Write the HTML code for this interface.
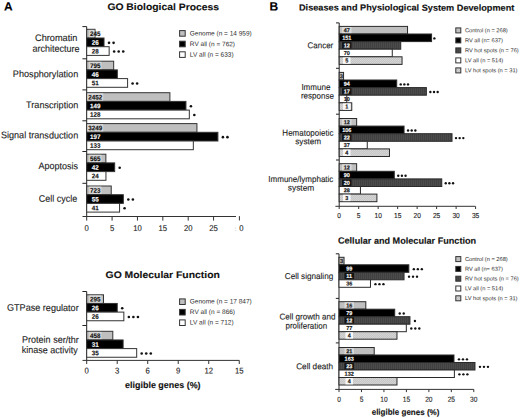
<!DOCTYPE html>
<html><head><meta charset="utf-8"><style>
html,body{margin:0;padding:0;background:#fff;}
body{width:520px;height:418px;overflow:hidden;}
svg{display:block;font-family:"Liberation Sans", sans-serif;text-rendering:geometricPrecision;}
</style></head><body>
<svg width="520" height="418" viewBox="0 0 520 418">
<defs>
<pattern id="hot" width="2" height="2" patternUnits="userSpaceOnUse">
<rect width="2" height="2" fill="#c6c6c6"/><rect width="1" height="1" fill="#d6d6d6"/><rect x="1" y="1" width="1" height="1" fill="#d2d2d2"/>
</pattern>
<pattern id="rvh" width="2" height="2" patternUnits="userSpaceOnUse">
<rect width="2" height="2" fill="#4b4b4b"/><rect width="1" height="2" fill="#414141"/>
</pattern>
</defs>
<rect width="520" height="418" fill="#fff"/>
<text transform="matrix(1 0.002 0 1 4.00 10.60)" font-size="12" text-anchor="start" font-weight="bold" fill="#000" stroke="#000" stroke-width="0.12">A</text>
<text transform="matrix(1 0.002 0 1 107.39 10.00)" font-size="9.6" text-anchor="start" font-weight="bold" textLength="111.64" lengthAdjust="spacingAndGlyphs" fill="#111" stroke="#111" stroke-width="0.12">GO Biological Process</text>
<line x1="86.70" y1="26.60" x2="86.70" y2="216.50" stroke="#222" stroke-width="1"/>
<line x1="82.40" y1="26.60" x2="86.70" y2="26.60" stroke="#222" stroke-width="1"/>
<line x1="82.40" y1="58.80" x2="86.70" y2="58.80" stroke="#222" stroke-width="1"/>
<line x1="82.40" y1="89.90" x2="86.70" y2="89.90" stroke="#222" stroke-width="1"/>
<line x1="82.40" y1="120.80" x2="86.70" y2="120.80" stroke="#222" stroke-width="1"/>
<line x1="82.40" y1="151.50" x2="86.70" y2="151.50" stroke="#222" stroke-width="1"/>
<line x1="82.40" y1="183.30" x2="86.70" y2="183.30" stroke="#222" stroke-width="1"/>
<line x1="82.50" y1="216.50" x2="236.00" y2="216.50" stroke="#333" stroke-width="1"/>
<rect x="86.70" y="29.30" width="8.31" height="8.70" fill="#bfbfbf" stroke="#333" stroke-width="1"/>
<rect x="89.15" y="29.90" width="5.36" height="7.50" fill="#d8d8d8"/>
<text transform="matrix(0.95 0.002 0 1 95.30 36.05)" font-size="6.6" text-anchor="middle" font-weight="bold" fill="#111" stroke="#111" stroke-width="0.12">245</text>
<rect x="86.70" y="38.00" width="17.32" height="8.70" fill="#000" stroke="#333" stroke-width="1"/>
<text transform="matrix(0.95 0.002 0 1 95.30 44.75)" font-size="6.6" text-anchor="middle" font-weight="bold" fill="#fff" stroke="#fff" stroke-width="0.12">26</text>
<circle cx="109.02" cy="42.85" r="1.3" fill="#111"/>
<circle cx="113.57" cy="42.85" r="1.3" fill="#111"/>
<rect x="86.70" y="46.70" width="22.45" height="8.70" fill="#fff" stroke="#333" stroke-width="1"/>
<text transform="matrix(0.95 0.002 0 1 95.30 53.45)" font-size="6.6" text-anchor="middle" font-weight="bold" fill="#111" stroke="#111" stroke-width="0.12">28</text>
<circle cx="114.15" cy="51.55" r="1.3" fill="#111"/>
<circle cx="118.70" cy="51.55" r="1.3" fill="#111"/>
<circle cx="123.25" cy="51.55" r="1.3" fill="#111"/>
<rect x="86.70" y="61.20" width="26.97" height="8.70" fill="#bfbfbf" stroke="#333" stroke-width="1"/>
<rect x="89.15" y="61.80" width="12.30" height="7.50" fill="#d8d8d8"/>
<text transform="matrix(0.95 0.002 0 1 95.30 67.95)" font-size="6.6" text-anchor="middle" font-weight="bold" fill="#111" stroke="#111" stroke-width="0.12">795</text>
<rect x="86.70" y="69.90" width="30.64" height="8.70" fill="#000" stroke="#333" stroke-width="1"/>
<text transform="matrix(0.95 0.002 0 1 95.30 76.65)" font-size="6.6" text-anchor="middle" font-weight="bold" fill="#fff" stroke="#fff" stroke-width="0.12">46</text>
<rect x="86.70" y="78.60" width="40.89" height="8.70" fill="#fff" stroke="#333" stroke-width="1"/>
<text transform="matrix(0.95 0.002 0 1 95.30 85.35)" font-size="6.6" text-anchor="middle" font-weight="bold" fill="#111" stroke="#111" stroke-width="0.12">51</text>
<circle cx="132.59" cy="83.45" r="1.3" fill="#111"/>
<circle cx="137.14" cy="83.45" r="1.3" fill="#111"/>
<rect x="86.70" y="92.70" width="83.19" height="8.70" fill="#bfbfbf" stroke="#333" stroke-width="1"/>
<rect x="87.35" y="93.30" width="15.90" height="7.50" fill="#d8d8d8"/>
<text transform="matrix(0.95 0.002 0 1 95.30 99.45)" font-size="6.6" text-anchor="middle" font-weight="bold" fill="#111" stroke="#111" stroke-width="0.12">2452</text>
<rect x="86.70" y="101.40" width="99.24" height="8.70" fill="#000" stroke="#333" stroke-width="1"/>
<text transform="matrix(0.95 0.002 0 1 95.30 108.15)" font-size="6.6" text-anchor="middle" font-weight="bold" fill="#fff" stroke="#fff" stroke-width="0.12">149</text>
<circle cx="190.94" cy="106.25" r="1.3" fill="#111"/>
<rect x="86.70" y="110.10" width="102.62" height="8.70" fill="#fff" stroke="#333" stroke-width="1"/>
<text transform="matrix(0.95 0.002 0 1 95.30 116.85)" font-size="6.6" text-anchor="middle" font-weight="bold" fill="#111" stroke="#111" stroke-width="0.12">128</text>
<circle cx="194.32" cy="114.95" r="1.3" fill="#111"/>
<rect x="86.70" y="123.60" width="110.23" height="8.70" fill="#bfbfbf" stroke="#333" stroke-width="1"/>
<rect x="87.35" y="124.20" width="15.90" height="7.50" fill="#d8d8d8"/>
<text transform="matrix(0.95 0.002 0 1 95.30 130.35)" font-size="6.6" text-anchor="middle" font-weight="bold" fill="#111" stroke="#111" stroke-width="0.12">3249</text>
<rect x="86.70" y="132.30" width="131.20" height="8.70" fill="#000" stroke="#333" stroke-width="1"/>
<text transform="matrix(0.95 0.002 0 1 95.30 139.05)" font-size="6.6" text-anchor="middle" font-weight="bold" fill="#fff" stroke="#fff" stroke-width="0.12">197</text>
<circle cx="222.90" cy="137.15" r="1.3" fill="#111"/>
<circle cx="227.45" cy="137.15" r="1.3" fill="#111"/>
<rect x="86.70" y="141.00" width="106.63" height="8.70" fill="#fff" stroke="#333" stroke-width="1"/>
<text transform="matrix(0.95 0.002 0 1 95.30 147.75)" font-size="6.6" text-anchor="middle" font-weight="bold" fill="#111" stroke="#111" stroke-width="0.12">133</text>
<rect x="86.70" y="154.20" width="19.17" height="8.70" fill="#bfbfbf" stroke="#333" stroke-width="1"/>
<rect x="89.15" y="154.80" width="12.30" height="7.50" fill="#d8d8d8"/>
<text transform="matrix(0.95 0.002 0 1 95.30 160.95)" font-size="6.6" text-anchor="middle" font-weight="bold" fill="#111" stroke="#111" stroke-width="0.12">565</text>
<rect x="86.70" y="162.90" width="27.97" height="8.70" fill="#000" stroke="#333" stroke-width="1"/>
<text transform="matrix(0.95 0.002 0 1 95.30 169.65)" font-size="6.6" text-anchor="middle" font-weight="bold" fill="#fff" stroke="#fff" stroke-width="0.12">42</text>
<circle cx="119.67" cy="167.75" r="1.3" fill="#111"/>
<rect x="86.70" y="171.60" width="19.24" height="8.70" fill="#fff" stroke="#333" stroke-width="1"/>
<text transform="matrix(0.95 0.002 0 1 95.30 178.35)" font-size="6.6" text-anchor="middle" font-weight="bold" fill="#111" stroke="#111" stroke-width="0.12">24</text>
<rect x="86.70" y="186.00" width="24.53" height="8.70" fill="#bfbfbf" stroke="#333" stroke-width="1"/>
<rect x="89.15" y="186.60" width="12.30" height="7.50" fill="#d8d8d8"/>
<text transform="matrix(0.95 0.002 0 1 95.30 192.75)" font-size="6.6" text-anchor="middle" font-weight="bold" fill="#111" stroke="#111" stroke-width="0.12">723</text>
<rect x="86.70" y="194.70" width="36.63" height="8.70" fill="#000" stroke="#333" stroke-width="1"/>
<text transform="matrix(0.95 0.002 0 1 95.30 201.45)" font-size="6.6" text-anchor="middle" font-weight="bold" fill="#fff" stroke="#fff" stroke-width="0.12">55</text>
<circle cx="128.33" cy="199.55" r="1.3" fill="#111"/>
<circle cx="132.88" cy="199.55" r="1.3" fill="#111"/>
<rect x="86.70" y="203.40" width="32.87" height="8.70" fill="#fff" stroke="#333" stroke-width="1"/>
<text transform="matrix(0.95 0.002 0 1 95.30 210.15)" font-size="6.6" text-anchor="middle" font-weight="bold" fill="#111" stroke="#111" stroke-width="0.12">41</text>
<circle cx="124.57" cy="208.25" r="1.3" fill="#111"/>
<text transform="matrix(1 0.002 0 1 35.04 41.00)" font-size="9.5" text-anchor="start" textLength="42.38" lengthAdjust="spacingAndGlyphs" fill="#1c1c1c" stroke="#1c1c1c" stroke-width="0.12">Chromatin</text>
<text transform="matrix(1 0.002 0 1 32.44 51.80)" font-size="9.5" text-anchor="start" textLength="47.17" lengthAdjust="spacingAndGlyphs" fill="#1c1c1c" stroke="#1c1c1c" stroke-width="0.12">architecture</text>
<text transform="matrix(1 0.002 0 1 12.87 77.10)" font-size="9.5" text-anchor="start" textLength="65.34" lengthAdjust="spacingAndGlyphs" fill="#1c1c1c" stroke="#1c1c1c" stroke-width="0.12">Phosphorylation</text>
<text transform="matrix(1 0.002 0 1 26.12 108.10)" font-size="9.5" text-anchor="start" textLength="52.20" lengthAdjust="spacingAndGlyphs" fill="#1c1c1c" stroke="#1c1c1c" stroke-width="0.12">Transcription</text>
<text transform="matrix(1 0.002 0 1 0.89 138.30)" font-size="9.5" text-anchor="start" textLength="77.31" lengthAdjust="spacingAndGlyphs" fill="#1c1c1c" stroke="#1c1c1c" stroke-width="0.12">Signal transduction</text>
<text transform="matrix(1 0.002 0 1 38.50 169.10)" font-size="9.5" text-anchor="start" textLength="39.53" lengthAdjust="spacingAndGlyphs" fill="#1c1c1c" stroke="#1c1c1c" stroke-width="0.12">Apoptosis</text>
<text transform="matrix(1 0.002 0 1 38.75 201.80)" font-size="9.5" text-anchor="start" textLength="38.55" lengthAdjust="spacingAndGlyphs" fill="#1c1c1c" stroke="#1c1c1c" stroke-width="0.12">Cell cycle</text>
<line x1="86.70" y1="216.50" x2="86.70" y2="220.60" stroke="#333" stroke-width="1"/>
<text transform="matrix(0.92 0.002 0 1 86.70 231.00)" font-size="8.4" text-anchor="middle" fill="#222" stroke="#222" stroke-width="0.12">0</text>
<line x1="112.08" y1="216.50" x2="112.08" y2="220.60" stroke="#333" stroke-width="1"/>
<text transform="matrix(0.92 0.002 0 1 112.08 231.00)" font-size="8.4" text-anchor="middle" fill="#222" stroke="#222" stroke-width="0.12">5</text>
<line x1="137.45" y1="216.50" x2="137.45" y2="220.60" stroke="#333" stroke-width="1"/>
<text transform="matrix(0.92 0.002 0 1 137.45 231.00)" font-size="8.4" text-anchor="middle" fill="#222" stroke="#222" stroke-width="0.12">10</text>
<line x1="162.82" y1="216.50" x2="162.82" y2="220.60" stroke="#333" stroke-width="1"/>
<text transform="matrix(0.92 0.002 0 1 162.82 231.00)" font-size="8.4" text-anchor="middle" fill="#222" stroke="#222" stroke-width="0.12">15</text>
<line x1="188.20" y1="216.50" x2="188.20" y2="220.60" stroke="#333" stroke-width="1"/>
<text transform="matrix(0.92 0.002 0 1 188.20 231.00)" font-size="8.4" text-anchor="middle" fill="#222" stroke="#222" stroke-width="0.12">20</text>
<line x1="213.57" y1="216.50" x2="213.57" y2="220.60" stroke="#333" stroke-width="1"/>
<text transform="matrix(0.92 0.002 0 1 213.57 231.00)" font-size="8.4" text-anchor="middle" fill="#222" stroke="#222" stroke-width="0.12">25</text>
<line x1="239.40" y1="216.10" x2="239.40" y2="220.50" stroke="#333" stroke-width="1"/>
<text transform="matrix(0.92 0.002 0 1 241.50 231.00)" font-size="8.4" text-anchor="middle" fill="#222" stroke="#222" stroke-width="0.12">0</text>
<text transform="matrix(1 0.002 0 1 235.70 231.00)" font-size="6" text-anchor="middle" fill="#b0b0b0" stroke="#b0b0b0" stroke-width="0.12">:</text>
<rect x="179.60" y="30.60" width="5.60" height="5.60" fill="#bfbfbf" stroke="#333" stroke-width="1"/>
<text transform="matrix(1 0.002 0 1 189.80 35.50)" font-size="6.5" text-anchor="start" fill="#2c2c2c">Genome (n = 14 959)</text>
<rect x="179.60" y="41.20" width="5.60" height="5.60" fill="#000" stroke="#333" stroke-width="1"/>
<text transform="matrix(1 0.002 0 1 189.80 46.10)" font-size="6.5" text-anchor="start" fill="#2c2c2c">RV all (n = 762)</text>
<rect x="179.60" y="51.80" width="5.60" height="5.60" fill="#fff" stroke="#333" stroke-width="1"/>
<text transform="matrix(1 0.002 0 1 189.80 56.70)" font-size="6.5" text-anchor="start" fill="#2c2c2c">LV all (n = 633)</text>
<text transform="matrix(1 0.002 0 1 105.58 277.90)" font-size="9.6" text-anchor="start" font-weight="bold" textLength="114.25" lengthAdjust="spacingAndGlyphs" fill="#111" stroke="#111" stroke-width="0.12">GO Molecular Function</text>
<line x1="86.70" y1="291.50" x2="86.70" y2="360.40" stroke="#222" stroke-width="1"/>
<line x1="82.40" y1="291.50" x2="86.70" y2="291.50" stroke="#222" stroke-width="1"/>
<line x1="82.40" y1="325.50" x2="86.70" y2="325.50" stroke="#222" stroke-width="1"/>
<line x1="82.50" y1="360.40" x2="239.30" y2="360.40" stroke="#333" stroke-width="1"/>
<rect x="86.70" y="294.80" width="16.81" height="8.65" fill="#bfbfbf" stroke="#333" stroke-width="1"/>
<rect x="89.15" y="295.40" width="12.30" height="7.45" fill="#d8d8d8"/>
<text transform="matrix(0.95 0.002 0 1 95.30 301.52)" font-size="6.6" text-anchor="middle" font-weight="bold" fill="#111" stroke="#111" stroke-width="0.12">295</text>
<rect x="86.70" y="303.45" width="30.53" height="8.65" fill="#000" stroke="#333" stroke-width="1"/>
<text transform="matrix(0.95 0.002 0 1 95.30 310.17)" font-size="6.6" text-anchor="middle" font-weight="bold" fill="#fff" stroke="#fff" stroke-width="0.12">26</text>
<circle cx="122.23" cy="308.27" r="1.3" fill="#111"/>
<rect x="86.70" y="312.10" width="37.14" height="8.65" fill="#fff" stroke="#333" stroke-width="1"/>
<text transform="matrix(0.95 0.002 0 1 95.30 318.82)" font-size="6.6" text-anchor="middle" font-weight="bold" fill="#111" stroke="#111" stroke-width="0.12">26</text>
<circle cx="128.84" cy="316.93" r="1.3" fill="#111"/>
<circle cx="133.39" cy="316.93" r="1.3" fill="#111"/>
<circle cx="137.94" cy="316.93" r="1.3" fill="#111"/>
<rect x="86.70" y="331.30" width="26.10" height="8.65" fill="#bfbfbf" stroke="#333" stroke-width="1"/>
<rect x="89.15" y="331.90" width="12.30" height="7.45" fill="#d8d8d8"/>
<text transform="matrix(0.95 0.002 0 1 95.30 338.02)" font-size="6.6" text-anchor="middle" font-weight="bold" fill="#111" stroke="#111" stroke-width="0.12">458</text>
<rect x="86.70" y="339.95" width="36.41" height="8.65" fill="#000" stroke="#333" stroke-width="1"/>
<text transform="matrix(0.95 0.002 0 1 95.30 346.67)" font-size="6.6" text-anchor="middle" font-weight="bold" fill="#fff" stroke="#fff" stroke-width="0.12">31</text>
<rect x="86.70" y="348.60" width="49.99" height="8.65" fill="#fff" stroke="#333" stroke-width="1"/>
<text transform="matrix(0.95 0.002 0 1 95.30 355.32)" font-size="6.6" text-anchor="middle" font-weight="bold" fill="#111" stroke="#111" stroke-width="0.12">35</text>
<circle cx="141.69" cy="353.43" r="1.3" fill="#111"/>
<circle cx="146.24" cy="353.43" r="1.3" fill="#111"/>
<circle cx="150.79" cy="353.43" r="1.3" fill="#111"/>
<text transform="matrix(1 0.002 0 1 6.95 310.80)" font-size="9.5" text-anchor="start" textLength="71.72" lengthAdjust="spacingAndGlyphs" fill="#1c1c1c" stroke="#1c1c1c" stroke-width="0.12">GTPase regulator</text>
<text transform="matrix(1 0.002 0 1 22.08 342.80)" font-size="9.5" text-anchor="start" textLength="56.61" lengthAdjust="spacingAndGlyphs" fill="#1c1c1c" stroke="#1c1c1c" stroke-width="0.12">Protein ser/thr</text>
<text transform="matrix(1 0.002 0 1 21.72 353.10)" font-size="9.5" text-anchor="start" textLength="55.98" lengthAdjust="spacingAndGlyphs" fill="#1c1c1c" stroke="#1c1c1c" stroke-width="0.12">kinase activity</text>
<line x1="86.70" y1="360.40" x2="86.70" y2="364.00" stroke="#333" stroke-width="1"/>
<text transform="matrix(0.92 0.002 0 1 86.70 373.60)" font-size="8.4" text-anchor="middle" fill="#222" stroke="#222" stroke-width="0.12">0</text>
<line x1="117.21" y1="360.40" x2="117.21" y2="364.00" stroke="#333" stroke-width="1"/>
<text transform="matrix(0.92 0.002 0 1 117.21 373.60)" font-size="8.4" text-anchor="middle" fill="#222" stroke="#222" stroke-width="0.12">3</text>
<line x1="147.72" y1="360.40" x2="147.72" y2="364.00" stroke="#333" stroke-width="1"/>
<text transform="matrix(0.92 0.002 0 1 147.72 373.60)" font-size="8.4" text-anchor="middle" fill="#222" stroke="#222" stroke-width="0.12">6</text>
<line x1="178.23" y1="360.40" x2="178.23" y2="364.00" stroke="#333" stroke-width="1"/>
<text transform="matrix(0.92 0.002 0 1 178.23 373.60)" font-size="8.4" text-anchor="middle" fill="#222" stroke="#222" stroke-width="0.12">9</text>
<line x1="208.74" y1="360.40" x2="208.74" y2="364.00" stroke="#333" stroke-width="1"/>
<text transform="matrix(0.92 0.002 0 1 208.74 373.60)" font-size="8.4" text-anchor="middle" fill="#222" stroke="#222" stroke-width="0.12">12</text>
<line x1="239.25" y1="360.40" x2="239.25" y2="364.00" stroke="#333" stroke-width="1"/>
<text transform="matrix(0.92 0.002 0 1 239.25 373.60)" font-size="8.4" text-anchor="middle" fill="#222" stroke="#222" stroke-width="0.12">15</text>
<text transform="matrix(1 0.002 0 1 125.04 388.00)" font-size="9.0" text-anchor="start" font-weight="bold" textLength="75.57" lengthAdjust="spacingAndGlyphs" fill="#111" stroke="#111" stroke-width="0.12">eligible genes (%)</text>
<rect x="179.60" y="298.90" width="5.60" height="5.60" fill="#bfbfbf" stroke="#333" stroke-width="1"/>
<text transform="matrix(1 0.002 0 1 189.80 303.50)" font-size="6.5" text-anchor="start" fill="#2c2c2c">Genome (n = 17 847)</text>
<rect x="179.60" y="309.40" width="5.60" height="5.60" fill="#000" stroke="#333" stroke-width="1"/>
<text transform="matrix(1 0.002 0 1 189.80 314.00)" font-size="6.5" text-anchor="start" fill="#2c2c2c">RV all (n = 866)</text>
<rect x="179.60" y="319.90" width="5.60" height="5.60" fill="#fff" stroke="#333" stroke-width="1"/>
<text transform="matrix(1 0.002 0 1 189.80 324.50)" font-size="6.5" text-anchor="start" fill="#2c2c2c">LV all (n = 712)</text>
<text transform="matrix(1 0.002 0 1 269.60 10.50)" font-size="12" text-anchor="start" font-weight="bold" fill="#000" stroke="#000" stroke-width="0.12">B</text>
<text transform="matrix(1 0.002 0 1 299.00 10.40)" font-size="8.9" text-anchor="start" font-weight="bold" textLength="215.33" lengthAdjust="spacingAndGlyphs" fill="#111" stroke="#111" stroke-width="0.12">Diseases and Physiological System Development</text>
<line x1="339.20" y1="22.90" x2="339.20" y2="206.30" stroke="#222" stroke-width="1"/>
<line x1="336.00" y1="22.90" x2="339.20" y2="22.90" stroke="#222" stroke-width="1"/>
<line x1="336.00" y1="68.30" x2="339.20" y2="68.30" stroke="#222" stroke-width="1"/>
<line x1="336.00" y1="114.20" x2="339.20" y2="114.20" stroke="#222" stroke-width="1"/>
<line x1="336.00" y1="160.00" x2="339.20" y2="160.00" stroke="#222" stroke-width="1"/>
<line x1="335.40" y1="206.30" x2="475.40" y2="206.30" stroke="#333" stroke-width="1"/>
<rect x="339.20" y="26.40" width="68.34" height="7.60" fill="#bfbfbf" stroke="#2a2a2a" stroke-width="1"/>
<rect x="342.05" y="27.00" width="9.50" height="6.40" fill="#dadada"/>
<text transform="matrix(0.97 0.002 0 1 346.80 32.20)" font-size="5.7" text-anchor="middle" font-weight="bold" fill="#111" stroke="#111" stroke-width="0.12">47</text>
<rect x="339.20" y="34.00" width="92.38" height="7.60" fill="#000" stroke="#2a2a2a" stroke-width="1"/>
<text transform="matrix(0.97 0.002 0 1 346.80 39.80)" font-size="5.7" text-anchor="middle" font-weight="bold" fill="#fff" stroke="#fff" stroke-width="0.12">151</text>
<circle cx="434.38" cy="38.40" r="1.2" fill="#111"/>
<rect x="339.20" y="41.60" width="61.53" height="7.60" fill="url(#rvh)" stroke="#2a2a2a" stroke-width="1"/>
<rect x="342.05" y="42.20" width="9.50" height="6.40" fill="#141414"/>
<text transform="matrix(0.97 0.002 0 1 346.80 47.40)" font-size="5.7" text-anchor="middle" font-weight="bold" fill="#fff" stroke="#fff" stroke-width="0.12">12</text>
<rect x="339.20" y="49.20" width="53.07" height="7.60" fill="#fff" stroke="#2a2a2a" stroke-width="1"/>
<text transform="matrix(0.97 0.002 0 1 346.80 55.00)" font-size="5.7" text-anchor="middle" font-weight="bold" fill="#111" stroke="#111" stroke-width="0.12">70</text>
<rect x="339.20" y="56.80" width="62.85" height="7.60" fill="url(#hot)" stroke="#2a2a2a" stroke-width="1"/>
<rect x="343.05" y="57.40" width="7.50" height="6.40" fill="#f8f8f8"/>
<text transform="matrix(0.97 0.002 0 1 346.80 62.60)" font-size="5.7" text-anchor="middle" font-weight="bold" fill="#111" stroke="#111" stroke-width="0.12">5</text>
<rect x="339.20" y="72.40" width="4.36" height="7.60" fill="#bfbfbf" stroke="#2a2a2a" stroke-width="1"/>
<clipPath id="c1"><rect x="339.70" y="72.90" width="3.36" height="6.60"/></clipPath>
<g clip-path="url(#c1)">
<text transform="matrix(1 0.002 0 1 341.38 78.20)" font-size="5.8" text-anchor="middle" font-weight="bold" fill="#222" stroke="#222" stroke-width="0.12">3</text>
</g>
<rect x="339.20" y="80.00" width="57.51" height="7.60" fill="#000" stroke="#2a2a2a" stroke-width="1"/>
<text transform="matrix(0.97 0.002 0 1 346.80 85.80)" font-size="5.7" text-anchor="middle" font-weight="bold" fill="#fff" stroke="#fff" stroke-width="0.12">94</text>
<circle cx="400.71" cy="84.40" r="1.2" fill="#111"/>
<circle cx="404.36" cy="84.40" r="1.2" fill="#111"/>
<circle cx="408.01" cy="84.40" r="1.2" fill="#111"/>
<rect x="339.20" y="87.60" width="87.17" height="7.60" fill="url(#rvh)" stroke="#2a2a2a" stroke-width="1"/>
<rect x="342.05" y="88.20" width="9.50" height="6.40" fill="#141414"/>
<text transform="matrix(0.97 0.002 0 1 346.80 93.40)" font-size="5.7" text-anchor="middle" font-weight="bold" fill="#fff" stroke="#fff" stroke-width="0.12">17</text>
<circle cx="430.37" cy="92.00" r="1.2" fill="#111"/>
<circle cx="434.02" cy="92.00" r="1.2" fill="#111"/>
<circle cx="437.67" cy="92.00" r="1.2" fill="#111"/>
<rect x="339.20" y="95.20" width="7.58" height="7.60" fill="#fff" stroke="#2a2a2a" stroke-width="1"/>
<text transform="matrix(0.97 0.002 0 1 346.80 101.00)" font-size="5.7" text-anchor="middle" font-weight="bold" fill="#111" stroke="#111" stroke-width="0.12">10</text>
<rect x="339.20" y="102.80" width="12.57" height="7.60" fill="url(#hot)" stroke="#2a2a2a" stroke-width="1"/>
<rect x="343.05" y="103.40" width="7.50" height="6.40" fill="#f8f8f8"/>
<text transform="matrix(0.97 0.002 0 1 346.80 108.60)" font-size="5.7" text-anchor="middle" font-weight="bold" fill="#111" stroke="#111" stroke-width="0.12">1</text>
<rect x="339.20" y="118.50" width="17.45" height="7.60" fill="#bfbfbf" stroke="#2a2a2a" stroke-width="1"/>
<rect x="342.05" y="119.10" width="9.50" height="6.40" fill="#dadada"/>
<text transform="matrix(0.97 0.002 0 1 346.80 124.30)" font-size="5.7" text-anchor="middle" font-weight="bold" fill="#111" stroke="#111" stroke-width="0.12">12</text>
<rect x="339.20" y="126.10" width="64.85" height="7.60" fill="#000" stroke="#2a2a2a" stroke-width="1"/>
<text transform="matrix(0.97 0.002 0 1 346.80 131.90)" font-size="5.7" text-anchor="middle" font-weight="bold" fill="#fff" stroke="#fff" stroke-width="0.12">106</text>
<circle cx="408.05" cy="130.50" r="1.2" fill="#111"/>
<circle cx="411.70" cy="130.50" r="1.2" fill="#111"/>
<circle cx="415.35" cy="130.50" r="1.2" fill="#111"/>
<rect x="339.20" y="133.70" width="112.81" height="7.60" fill="url(#rvh)" stroke="#2a2a2a" stroke-width="1"/>
<rect x="342.05" y="134.30" width="9.50" height="6.40" fill="#141414"/>
<text transform="matrix(0.97 0.002 0 1 346.80 139.50)" font-size="5.7" text-anchor="middle" font-weight="bold" fill="#fff" stroke="#fff" stroke-width="0.12">22</text>
<circle cx="456.01" cy="138.10" r="1.2" fill="#111"/>
<circle cx="459.66" cy="138.10" r="1.2" fill="#111"/>
<circle cx="463.31" cy="138.10" r="1.2" fill="#111"/>
<rect x="339.20" y="141.30" width="28.05" height="7.60" fill="#fff" stroke="#2a2a2a" stroke-width="1"/>
<text transform="matrix(0.97 0.002 0 1 346.80 147.10)" font-size="5.7" text-anchor="middle" font-weight="bold" fill="#111" stroke="#111" stroke-width="0.12">37</text>
<rect x="339.20" y="148.90" width="50.28" height="7.60" fill="url(#hot)" stroke="#2a2a2a" stroke-width="1"/>
<rect x="343.05" y="149.50" width="7.50" height="6.40" fill="#f8f8f8"/>
<text transform="matrix(0.97 0.002 0 1 346.80 154.70)" font-size="5.7" text-anchor="middle" font-weight="bold" fill="#111" stroke="#111" stroke-width="0.12">4</text>
<rect x="339.20" y="163.70" width="17.45" height="7.60" fill="#bfbfbf" stroke="#2a2a2a" stroke-width="1"/>
<rect x="342.05" y="164.30" width="9.50" height="6.40" fill="#dadada"/>
<text transform="matrix(0.97 0.002 0 1 346.80 169.50)" font-size="5.7" text-anchor="middle" font-weight="bold" fill="#111" stroke="#111" stroke-width="0.12">12</text>
<rect x="339.20" y="171.30" width="55.06" height="7.60" fill="#000" stroke="#2a2a2a" stroke-width="1"/>
<text transform="matrix(0.97 0.002 0 1 346.80 177.10)" font-size="5.7" text-anchor="middle" font-weight="bold" fill="#fff" stroke="#fff" stroke-width="0.12">90</text>
<circle cx="398.26" cy="175.70" r="1.2" fill="#111"/>
<circle cx="401.91" cy="175.70" r="1.2" fill="#111"/>
<circle cx="405.56" cy="175.70" r="1.2" fill="#111"/>
<rect x="339.20" y="178.90" width="102.55" height="7.60" fill="url(#rvh)" stroke="#2a2a2a" stroke-width="1"/>
<rect x="342.05" y="179.50" width="9.50" height="6.40" fill="#141414"/>
<text transform="matrix(0.97 0.002 0 1 346.80 184.70)" font-size="5.7" text-anchor="middle" font-weight="bold" fill="#fff" stroke="#fff" stroke-width="0.12">20</text>
<circle cx="445.75" cy="183.30" r="1.2" fill="#111"/>
<circle cx="449.40" cy="183.30" r="1.2" fill="#111"/>
<circle cx="453.05" cy="183.30" r="1.2" fill="#111"/>
<rect x="339.20" y="186.50" width="21.23" height="7.60" fill="#fff" stroke="#2a2a2a" stroke-width="1"/>
<text transform="matrix(0.97 0.002 0 1 346.80 192.30)" font-size="5.7" text-anchor="middle" font-weight="bold" fill="#111" stroke="#111" stroke-width="0.12">28</text>
<rect x="339.20" y="194.10" width="37.71" height="7.60" fill="url(#hot)" stroke="#2a2a2a" stroke-width="1"/>
<rect x="343.05" y="194.70" width="7.50" height="6.40" fill="#f8f8f8"/>
<text transform="matrix(0.97 0.002 0 1 346.80 199.90)" font-size="5.7" text-anchor="middle" font-weight="bold" fill="#111" stroke="#111" stroke-width="0.12">3</text>
<line x1="339.20" y1="206.30" x2="339.20" y2="209.00" stroke="#333" stroke-width="1"/>
<text transform="matrix(0.92 0.002 0 1 339.20 217.90)" font-size="7.2" text-anchor="middle" fill="#222" stroke="#222" stroke-width="0.12">0</text>
<line x1="358.69" y1="206.30" x2="358.69" y2="209.00" stroke="#333" stroke-width="1"/>
<text transform="matrix(0.92 0.002 0 1 358.69 217.90)" font-size="7.2" text-anchor="middle" fill="#222" stroke="#222" stroke-width="0.12">5</text>
<line x1="378.17" y1="206.30" x2="378.17" y2="209.00" stroke="#333" stroke-width="1"/>
<text transform="matrix(0.92 0.002 0 1 378.17 217.90)" font-size="7.2" text-anchor="middle" fill="#222" stroke="#222" stroke-width="0.12">10</text>
<line x1="397.65" y1="206.30" x2="397.65" y2="209.00" stroke="#333" stroke-width="1"/>
<text transform="matrix(0.92 0.002 0 1 397.65 217.90)" font-size="7.2" text-anchor="middle" fill="#222" stroke="#222" stroke-width="0.12">15</text>
<line x1="417.14" y1="206.30" x2="417.14" y2="209.00" stroke="#333" stroke-width="1"/>
<text transform="matrix(0.92 0.002 0 1 417.14 217.90)" font-size="7.2" text-anchor="middle" fill="#222" stroke="#222" stroke-width="0.12">20</text>
<line x1="436.62" y1="206.30" x2="436.62" y2="209.00" stroke="#333" stroke-width="1"/>
<text transform="matrix(0.92 0.002 0 1 436.62 217.90)" font-size="7.2" text-anchor="middle" fill="#222" stroke="#222" stroke-width="0.12">25</text>
<line x1="456.11" y1="206.30" x2="456.11" y2="209.00" stroke="#333" stroke-width="1"/>
<text transform="matrix(0.92 0.002 0 1 456.11 217.90)" font-size="7.2" text-anchor="middle" fill="#222" stroke="#222" stroke-width="0.12">30</text>
<line x1="475.59" y1="206.30" x2="475.59" y2="209.00" stroke="#333" stroke-width="1"/>
<text transform="matrix(0.92 0.002 0 1 475.59 217.90)" font-size="7.2" text-anchor="middle" fill="#222" stroke="#222" stroke-width="0.12">35</text>
<text transform="matrix(1 0.002 0 1 307.60 48.30)" font-size="8.6" text-anchor="start" textLength="25.65" lengthAdjust="spacingAndGlyphs" fill="#1c1c1c" stroke="#1c1c1c" stroke-width="0.12">Cancer</text>
<text transform="matrix(1 0.002 0 1 301.38 90.00)" font-size="8.6" text-anchor="start" textLength="29.00" lengthAdjust="spacingAndGlyphs" fill="#1c1c1c" stroke="#1c1c1c" stroke-width="0.12">Immune</text>
<text transform="matrix(1 0.002 0 1 300.88 98.60)" font-size="8.6" text-anchor="start" textLength="32.97" lengthAdjust="spacingAndGlyphs" fill="#1c1c1c" stroke="#1c1c1c" stroke-width="0.12">response</text>
<text transform="matrix(1 0.002 0 1 282.36 135.70)" font-size="8.6" text-anchor="start" textLength="51.06" lengthAdjust="spacingAndGlyphs" fill="#1c1c1c" stroke="#1c1c1c" stroke-width="0.12">Hematopoietic</text>
<text transform="matrix(1 0.002 0 1 295.25 144.30)" font-size="8.6" text-anchor="start" textLength="25.95" lengthAdjust="spacingAndGlyphs" fill="#1c1c1c" stroke="#1c1c1c" stroke-width="0.12">system</text>
<text transform="matrix(1 0.002 0 1 268.28 182.00)" font-size="8.6" text-anchor="start" textLength="65.11" lengthAdjust="spacingAndGlyphs" fill="#1c1c1c" stroke="#1c1c1c" stroke-width="0.12">Immune/lymphatic</text>
<text transform="matrix(1 0.002 0 1 287.75 190.60)" font-size="8.6" text-anchor="start" textLength="26.57" lengthAdjust="spacingAndGlyphs" fill="#1c1c1c" stroke="#1c1c1c" stroke-width="0.12">system</text>
<rect x="455.80" y="27.90" width="5.00" height="5.00" fill="#bfbfbf" stroke="#333" stroke-width="1"/>
<text transform="matrix(1 0.002 0 1 464.90 32.20)" font-size="5.7" text-anchor="start" fill="#2c2c2c">Control (n = 268)</text>
<rect x="455.80" y="37.90" width="5.00" height="5.00" fill="#000" stroke="#333" stroke-width="1"/>
<text transform="matrix(1 0.002 0 1 464.90 42.20)" font-size="5.7" text-anchor="start" fill="#2c2c2c">RV all (n= 637)</text>
<rect x="455.80" y="47.90" width="5.00" height="5.00" fill="url(#rvh)" stroke="#333" stroke-width="1"/>
<text transform="matrix(1 0.002 0 1 464.90 52.20)" font-size="5.7" text-anchor="start" fill="#2c2c2c">RV hot spots (n = 76)</text>
<rect x="455.80" y="57.90" width="5.00" height="5.00" fill="#fff" stroke="#333" stroke-width="1"/>
<text transform="matrix(1 0.002 0 1 464.90 62.20)" font-size="5.7" text-anchor="start" fill="#2c2c2c">LV all (n = 514)</text>
<rect x="455.80" y="67.90" width="5.00" height="5.00" fill="url(#hot)" stroke="#333" stroke-width="1"/>
<text transform="matrix(1 0.002 0 1 464.90 72.20)" font-size="5.7" text-anchor="start" fill="#2c2c2c">LV hot spots (n = 31)</text>
<text transform="matrix(1 0.002 0 1 337.94 243.60)" font-size="9.0" text-anchor="start" font-weight="bold" textLength="138.20" lengthAdjust="spacingAndGlyphs" fill="#111" stroke="#111" stroke-width="0.12">Cellular and Molecular Function</text>
<line x1="339.00" y1="253.80" x2="339.00" y2="389.40" stroke="#222" stroke-width="1"/>
<line x1="335.80" y1="253.80" x2="339.00" y2="253.80" stroke="#222" stroke-width="1"/>
<line x1="335.80" y1="298.40" x2="339.00" y2="298.40" stroke="#222" stroke-width="1"/>
<line x1="335.80" y1="342.90" x2="339.00" y2="342.90" stroke="#222" stroke-width="1"/>
<line x1="335.20" y1="389.40" x2="473.80" y2="389.40" stroke="#333" stroke-width="1"/>
<rect x="339.00" y="257.30" width="5.03" height="7.50" fill="#bfbfbf" stroke="#2a2a2a" stroke-width="1"/>
<clipPath id="c2"><rect x="339.50" y="257.80" width="4.03" height="6.50"/></clipPath>
<g clip-path="url(#c2)">
<text transform="matrix(1 0.002 0 1 341.51 263.05)" font-size="5.8" text-anchor="middle" font-weight="bold" fill="#222" stroke="#222" stroke-width="0.12">3</text>
</g>
<rect x="339.00" y="264.80" width="69.83" height="7.50" fill="#000" stroke="#2a2a2a" stroke-width="1"/>
<text transform="matrix(0.97 0.002 0 1 349.20 270.55)" font-size="5.7" text-anchor="middle" font-weight="bold" fill="#fff" stroke="#fff" stroke-width="0.12">99</text>
<circle cx="413.83" cy="269.15" r="1.2" fill="#111"/>
<circle cx="417.83" cy="269.15" r="1.2" fill="#111"/>
<circle cx="421.83" cy="269.15" r="1.2" fill="#111"/>
<rect x="339.00" y="272.30" width="65.03" height="7.50" fill="url(#rvh)" stroke="#2a2a2a" stroke-width="1"/>
<rect x="344.45" y="272.90" width="9.50" height="6.30" fill="#141414"/>
<text transform="matrix(0.97 0.002 0 1 349.20 278.05)" font-size="5.7" text-anchor="middle" font-weight="bold" fill="#fff" stroke="#fff" stroke-width="0.12">11</text>
<circle cx="409.03" cy="276.65" r="1.2" fill="#111"/>
<circle cx="413.03" cy="276.65" r="1.2" fill="#111"/>
<circle cx="417.03" cy="276.65" r="1.2" fill="#111"/>
<rect x="339.00" y="279.80" width="31.47" height="7.50" fill="#fff" stroke="#2a2a2a" stroke-width="1"/>
<text transform="matrix(0.97 0.002 0 1 349.20 285.55)" font-size="5.7" text-anchor="middle" font-weight="bold" fill="#111" stroke="#111" stroke-width="0.12">36</text>
<circle cx="375.47" cy="284.15" r="1.2" fill="#111"/>
<circle cx="379.47" cy="284.15" r="1.2" fill="#111"/>
<circle cx="383.47" cy="284.15" r="1.2" fill="#111"/>
<rect x="339.00" y="301.70" width="26.82" height="7.50" fill="#bfbfbf" stroke="#2a2a2a" stroke-width="1"/>
<rect x="344.45" y="302.30" width="9.50" height="6.30" fill="#dadada"/>
<text transform="matrix(0.97 0.002 0 1 349.20 307.45)" font-size="5.7" text-anchor="middle" font-weight="bold" fill="#111" stroke="#111" stroke-width="0.12">16</text>
<rect x="339.00" y="309.20" width="55.72" height="7.50" fill="#000" stroke="#2a2a2a" stroke-width="1"/>
<text transform="matrix(0.97 0.002 0 1 349.20 314.95)" font-size="5.7" text-anchor="middle" font-weight="bold" fill="#fff" stroke="#fff" stroke-width="0.12">79</text>
<circle cx="399.72" cy="313.55" r="1.2" fill="#111"/>
<circle cx="403.72" cy="313.55" r="1.2" fill="#111"/>
<rect x="339.00" y="316.70" width="70.94" height="7.50" fill="url(#rvh)" stroke="#2a2a2a" stroke-width="1"/>
<rect x="344.45" y="317.30" width="9.50" height="6.30" fill="#141414"/>
<text transform="matrix(0.97 0.002 0 1 349.20 322.45)" font-size="5.7" text-anchor="middle" font-weight="bold" fill="#fff" stroke="#fff" stroke-width="0.12">12</text>
<circle cx="414.94" cy="321.05" r="1.2" fill="#111"/>
<rect x="339.00" y="324.20" width="67.31" height="7.50" fill="#fff" stroke="#2a2a2a" stroke-width="1"/>
<text transform="matrix(0.97 0.002 0 1 349.20 329.95)" font-size="5.7" text-anchor="middle" font-weight="bold" fill="#111" stroke="#111" stroke-width="0.12">77</text>
<circle cx="411.31" cy="328.55" r="1.2" fill="#111"/>
<circle cx="415.31" cy="328.55" r="1.2" fill="#111"/>
<circle cx="419.31" cy="328.55" r="1.2" fill="#111"/>
<rect x="339.00" y="331.70" width="57.97" height="7.50" fill="url(#hot)" stroke="#2a2a2a" stroke-width="1"/>
<rect x="345.45" y="332.30" width="7.50" height="6.30" fill="#f8f8f8"/>
<text transform="matrix(0.97 0.002 0 1 349.20 337.45)" font-size="5.7" text-anchor="middle" font-weight="bold" fill="#111" stroke="#111" stroke-width="0.12">4</text>
<rect x="339.00" y="347.50" width="35.21" height="7.50" fill="#bfbfbf" stroke="#2a2a2a" stroke-width="1"/>
<rect x="344.45" y="348.10" width="9.50" height="6.30" fill="#dadada"/>
<text transform="matrix(0.97 0.002 0 1 349.20 353.25)" font-size="5.7" text-anchor="middle" font-weight="bold" fill="#111" stroke="#111" stroke-width="0.12">21</text>
<rect x="339.00" y="355.00" width="114.97" height="7.50" fill="#000" stroke="#2a2a2a" stroke-width="1"/>
<text transform="matrix(0.97 0.002 0 1 349.20 360.75)" font-size="5.7" text-anchor="middle" font-weight="bold" fill="#fff" stroke="#fff" stroke-width="0.12">163</text>
<circle cx="458.97" cy="359.35" r="1.2" fill="#111"/>
<circle cx="462.97" cy="359.35" r="1.2" fill="#111"/>
<circle cx="466.97" cy="359.35" r="1.2" fill="#111"/>
<rect x="339.00" y="362.50" width="135.97" height="7.50" fill="url(#rvh)" stroke="#2a2a2a" stroke-width="1"/>
<rect x="344.45" y="363.10" width="9.50" height="6.30" fill="#141414"/>
<text transform="matrix(0.97 0.002 0 1 349.20 368.25)" font-size="5.7" text-anchor="middle" font-weight="bold" fill="#fff" stroke="#fff" stroke-width="0.12">23</text>
<circle cx="479.97" cy="366.85" r="1.2" fill="#111"/>
<circle cx="483.97" cy="366.85" r="1.2" fill="#111"/>
<circle cx="487.97" cy="366.85" r="1.2" fill="#111"/>
<rect x="339.00" y="370.00" width="115.38" height="7.50" fill="#fff" stroke="#2a2a2a" stroke-width="1"/>
<text transform="matrix(0.97 0.002 0 1 349.20 375.75)" font-size="5.7" text-anchor="middle" font-weight="bold" fill="#111" stroke="#111" stroke-width="0.12">132</text>
<circle cx="459.38" cy="374.35" r="1.2" fill="#111"/>
<circle cx="463.38" cy="374.35" r="1.2" fill="#111"/>
<circle cx="467.38" cy="374.35" r="1.2" fill="#111"/>
<rect x="339.00" y="377.50" width="57.97" height="7.50" fill="url(#hot)" stroke="#2a2a2a" stroke-width="1"/>
<rect x="345.45" y="378.10" width="7.50" height="6.30" fill="#f8f8f8"/>
<text transform="matrix(0.97 0.002 0 1 349.20 383.25)" font-size="5.7" text-anchor="middle" font-weight="bold" fill="#111" stroke="#111" stroke-width="0.12">4</text>
<line x1="339.00" y1="389.40" x2="339.00" y2="392.10" stroke="#333" stroke-width="1"/>
<text transform="matrix(0.92 0.002 0 1 339.00 401.70)" font-size="7.2" text-anchor="middle" fill="#222" stroke="#222" stroke-width="0.12">0</text>
<line x1="361.47" y1="389.40" x2="361.47" y2="392.10" stroke="#333" stroke-width="1"/>
<text transform="matrix(0.92 0.002 0 1 361.47 401.70)" font-size="7.2" text-anchor="middle" fill="#222" stroke="#222" stroke-width="0.12">5</text>
<line x1="383.93" y1="389.40" x2="383.93" y2="392.10" stroke="#333" stroke-width="1"/>
<text transform="matrix(0.92 0.002 0 1 383.93 401.70)" font-size="7.2" text-anchor="middle" fill="#222" stroke="#222" stroke-width="0.12">10</text>
<line x1="406.39" y1="389.40" x2="406.39" y2="392.10" stroke="#333" stroke-width="1"/>
<text transform="matrix(0.92 0.002 0 1 406.39 401.70)" font-size="7.2" text-anchor="middle" fill="#222" stroke="#222" stroke-width="0.12">15</text>
<line x1="428.86" y1="389.40" x2="428.86" y2="392.10" stroke="#333" stroke-width="1"/>
<text transform="matrix(0.92 0.002 0 1 428.86 401.70)" font-size="7.2" text-anchor="middle" fill="#222" stroke="#222" stroke-width="0.12">20</text>
<line x1="451.32" y1="389.40" x2="451.32" y2="392.10" stroke="#333" stroke-width="1"/>
<text transform="matrix(0.92 0.002 0 1 451.32 401.70)" font-size="7.2" text-anchor="middle" fill="#222" stroke="#222" stroke-width="0.12">25</text>
<line x1="473.79" y1="389.40" x2="473.79" y2="392.10" stroke="#333" stroke-width="1"/>
<text transform="matrix(0.92 0.002 0 1 473.79 401.70)" font-size="7.2" text-anchor="middle" fill="#222" stroke="#222" stroke-width="0.12">30</text>
<text transform="matrix(1 0.002 0 1 284.79 279.00)" font-size="8.6" text-anchor="start" textLength="48.46" lengthAdjust="spacingAndGlyphs" fill="#1c1c1c" stroke="#1c1c1c" stroke-width="0.12">Cell signaling</text>
<text transform="matrix(1 0.002 0 1 279.40 319.50)" font-size="8.6" text-anchor="start" textLength="56.16" lengthAdjust="spacingAndGlyphs" fill="#1c1c1c" stroke="#1c1c1c" stroke-width="0.12">Cell growth and</text>
<text transform="matrix(1 0.002 0 1 285.48 328.60)" font-size="8.6" text-anchor="start" textLength="41.64" lengthAdjust="spacingAndGlyphs" fill="#1c1c1c" stroke="#1c1c1c" stroke-width="0.12">proliferation</text>
<text transform="matrix(1 0.002 0 1 296.19 369.20)" font-size="8.6" text-anchor="start" textLength="36.97" lengthAdjust="spacingAndGlyphs" fill="#1c1c1c" stroke="#1c1c1c" stroke-width="0.12">Cell death</text>
<rect x="455.80" y="256.60" width="5.00" height="5.00" fill="#bfbfbf" stroke="#333" stroke-width="1"/>
<text transform="matrix(1 0.002 0 1 464.90 260.90)" font-size="5.7" text-anchor="start" fill="#2c2c2c">Control (n = 268)</text>
<rect x="455.80" y="266.40" width="5.00" height="5.00" fill="#000" stroke="#333" stroke-width="1"/>
<text transform="matrix(1 0.002 0 1 464.90 270.70)" font-size="5.7" text-anchor="start" fill="#2c2c2c">RV all (n= 637)</text>
<rect x="455.80" y="276.20" width="5.00" height="5.00" fill="url(#rvh)" stroke="#333" stroke-width="1"/>
<text transform="matrix(1 0.002 0 1 464.90 280.50)" font-size="5.7" text-anchor="start" fill="#2c2c2c">RV hot spots (n = 76)</text>
<rect x="455.80" y="286.00" width="5.00" height="5.00" fill="#fff" stroke="#333" stroke-width="1"/>
<text transform="matrix(1 0.002 0 1 464.90 290.30)" font-size="5.7" text-anchor="start" fill="#2c2c2c">LV all (n = 514)</text>
<rect x="455.80" y="295.80" width="5.00" height="5.00" fill="url(#hot)" stroke="#333" stroke-width="1"/>
<text transform="matrix(1 0.002 0 1 464.90 300.10)" font-size="5.7" text-anchor="start" fill="#2c2c2c">LV hot spots (n = 31)</text>
<text transform="matrix(1 0.002 0 1 371.68 414.80)" font-size="8.2" text-anchor="start" font-weight="bold" textLength="67.69" lengthAdjust="spacingAndGlyphs" fill="#111" stroke="#111" stroke-width="0.12">eligible genes (%)</text>
</svg>
</body></html>
